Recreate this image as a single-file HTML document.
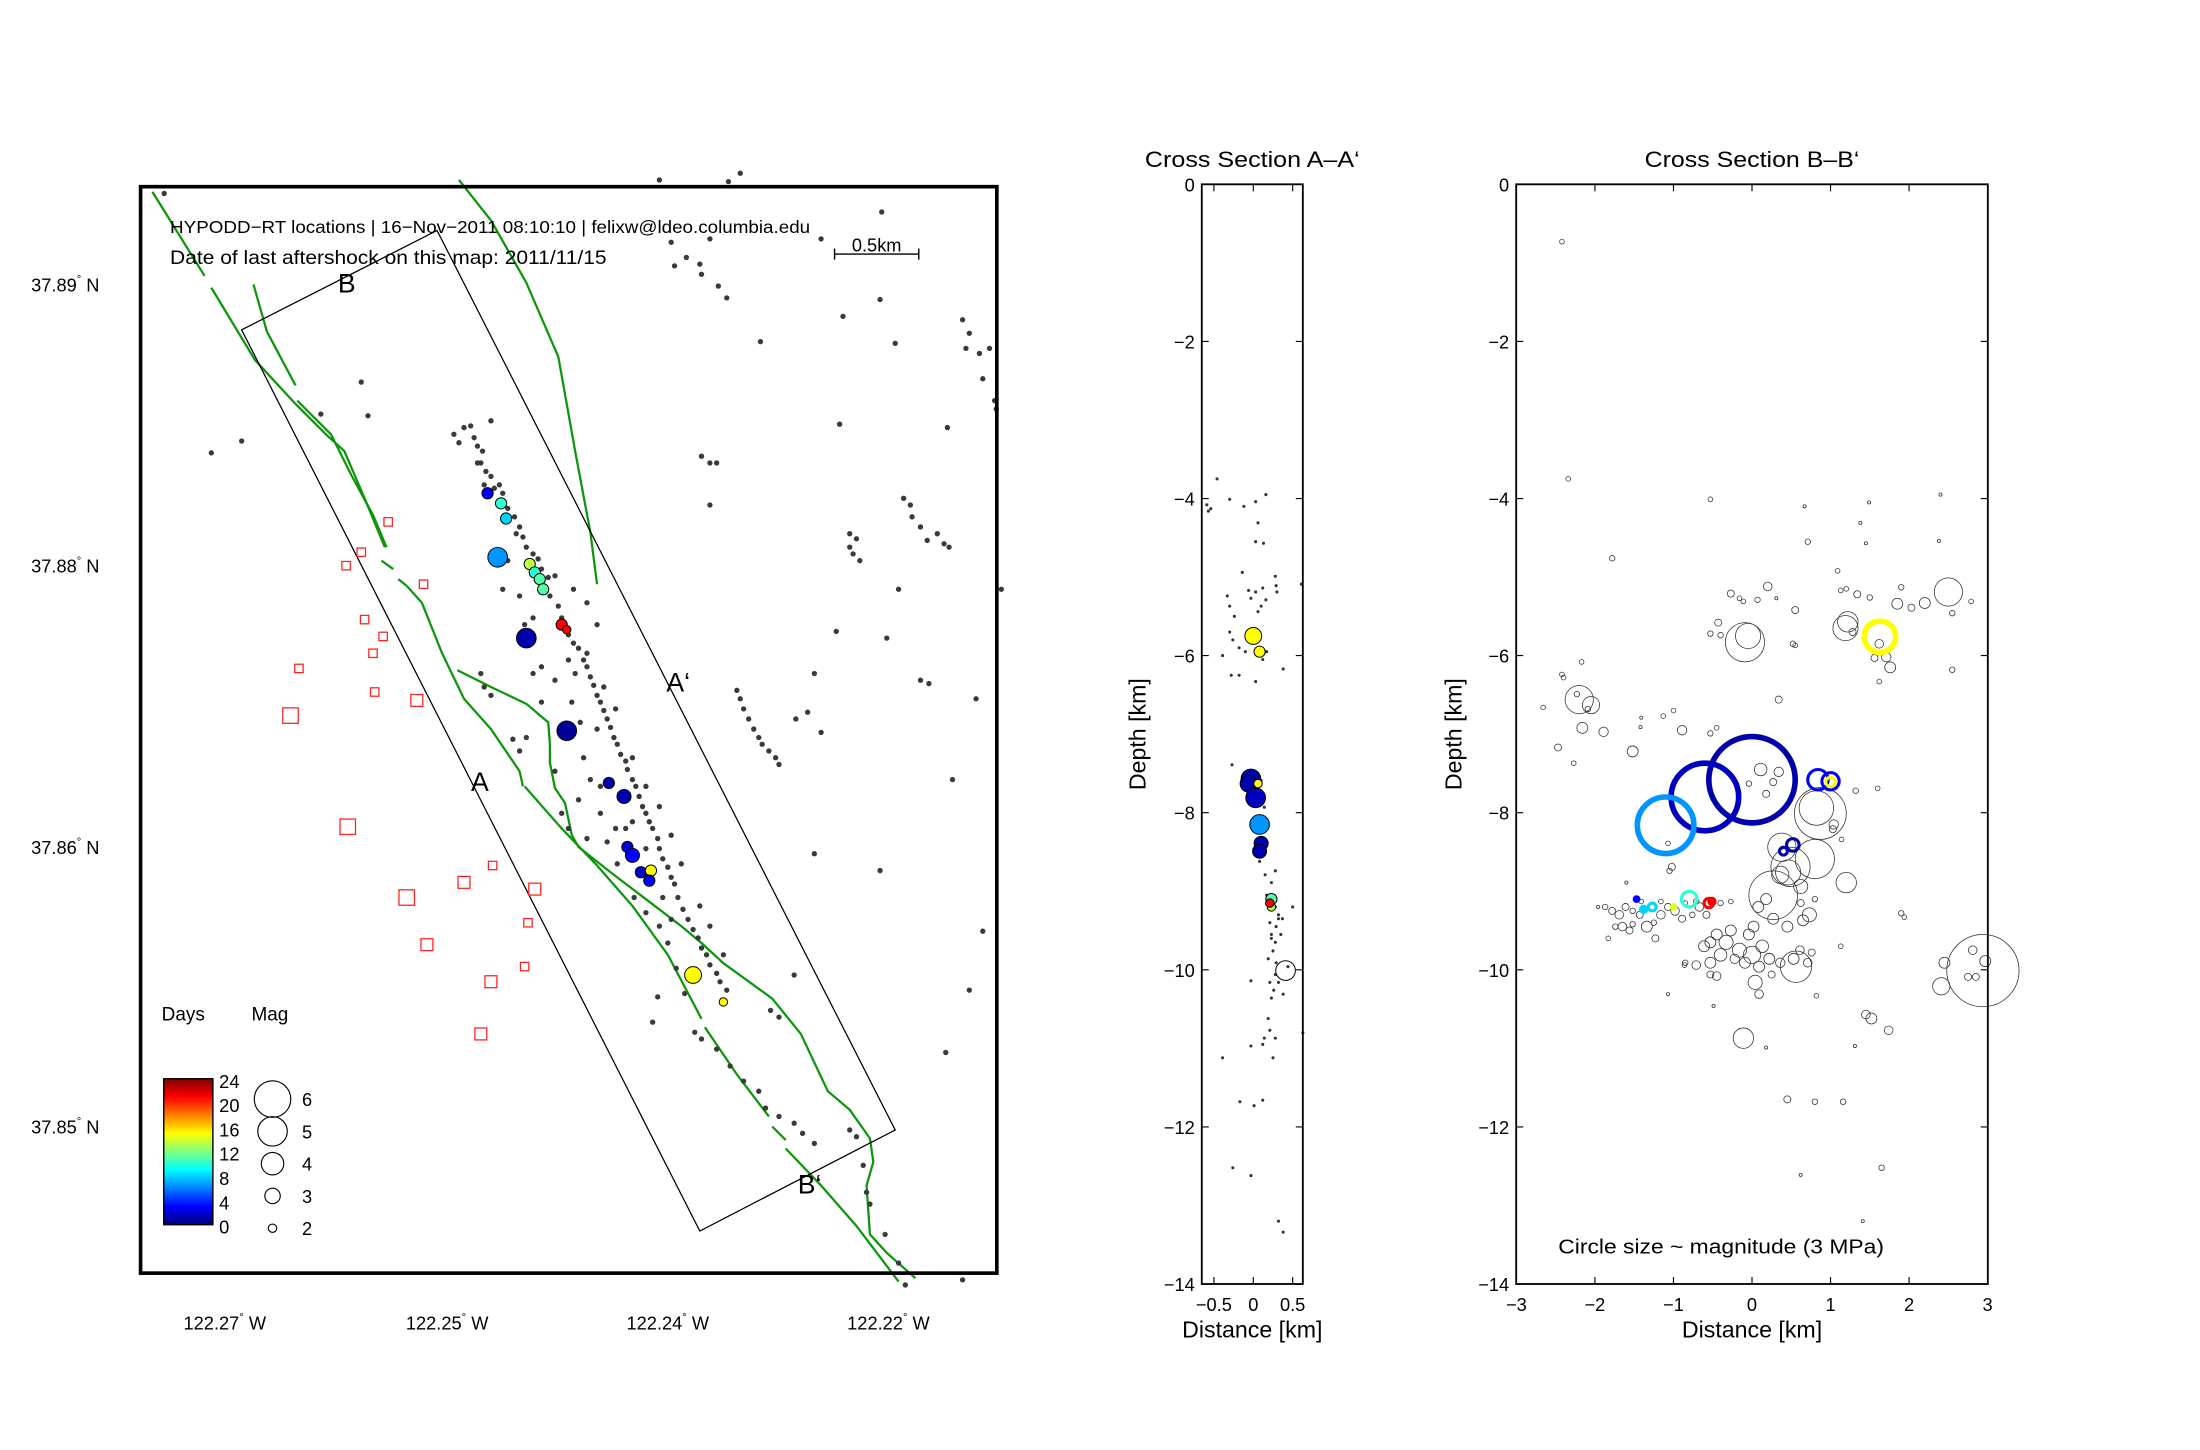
<!DOCTYPE html>
<html><head><meta charset="utf-8"><title>HYPODD-RT locations</title>
<style>
html,body{margin:0;padding:0;background:#fff;}
svg{display:block;font-family:"Liberation Sans",Arial,sans-serif;}
</style></head>
<body>
<svg id="fig" xmlns="http://www.w3.org/2000/svg" width="2200" height="1450" viewBox="0 0 1567 1033">
<defs>
<linearGradient id="jet" x1="0" y1="1" x2="0" y2="0">
<stop offset="0" stop-color="#000080"/><stop offset="0.125" stop-color="#0000ff"/><stop offset="0.375" stop-color="#00ffff"/><stop offset="0.625" stop-color="#ffff00"/><stop offset="0.875" stop-color="#ff0000"/><stop offset="1" stop-color="#800000"/>
</linearGradient>
</defs>
<rect x="0" y="0" width="1567" height="1033" fill="#fff"/>
<g id="map"></g>
<g id="secA"></g>
<g id="secB"></g>
</svg>
<script>
// ---------------- MAP DATA (km east / km north of map lower-left corner) ----------------
const mapDots = [[1.86,4.98],[1.92,5.02],[1.96,5.03],[1.98,4.96],[2.00,4.91],[2.03,4.88],[2.02,4.81],[2.05,4.76],[2.08,4.73],[2.04,4.68],[2.10,4.66],[2.13,4.68],[2.15,4.63],[2.18,4.54],[2.22,4.49],[2.25,4.43],[2.27,4.37],[2.23,4.39],[2.29,4.31],[2.33,4.27],[2.36,4.24],[2.38,4.18],[2.42,4.13],[2.43,4.02],[2.48,3.96],[2.50,3.89],[2.54,3.79],[2.57,3.74],[2.60,3.71],[2.63,3.64],[2.65,3.60],[2.67,3.54],[2.69,3.49],[2.71,3.43],[2.73,3.39],[2.75,3.34],[2.77,3.29],[2.79,3.24],[2.81,3.18],[2.83,3.14],[2.85,3.08],[2.88,3.04],[2.89,2.99],[2.92,2.93],[2.94,2.89],[2.96,2.83],[2.98,2.77],[3.00,2.73],[3.02,2.68],[3.04,2.64],[3.07,2.58],[3.08,2.52],[3.10,2.46],[3.13,2.41],[3.15,2.35],[3.17,2.31],[3.19,2.23],[3.22,2.16],[3.25,2.10],[3.28,2.04],[3.31,1.99],[3.33,1.93],[3.36,1.89],[3.38,1.83],[3.42,1.78],[3.44,1.73],[3.48,1.68],[3.08,2.77],[3.00,2.89],[2.92,3.06],[2.82,3.35],[2.75,3.48],[2.65,3.68],[2.58,3.56],[2.56,3.39],[2.61,3.27],[2.71,3.23],[2.63,3.06],[2.67,2.93],[2.73,2.73],[2.82,2.64],[2.77,2.56],[2.83,2.43],[2.93,2.23],[3.00,2.14],[3.08,2.06],[3.13,1.96],[3.18,1.81],[3.23,1.66],[3.07,1.64],[3.04,1.49],[3.29,1.43],[3.33,1.39],[3.42,1.33],[3.50,1.23],[3.58,1.14],[3.67,1.08],[3.71,0.98],[3.79,0.93],[3.88,0.89],[3.93,0.83],[4.00,0.77],[4.21,0.85],[4.25,0.81],[4.29,0.64],[4.33,0.41],[4.31,0.48],[4.42,0.23],[4.50,0.06],[4.54,-0.07],[4.88,-0.04],[2.71,3.85],[2.65,3.98],[2.57,4.06],[2.46,4.14],[2.28,3.85],[2.33,3.56],[2.38,3.39],[2.29,3.18],[2.25,3.10],[2.21,3.17],[2.46,2.98],[2.50,2.73],[2.54,2.64],[2.65,2.58],[2.73,2.89],[2.60,2.81],[2.92,2.68],[3.15,2.60],[3.21,2.43],[3.00,2.52],[2.88,2.64],[3.10,2.23],[3.15,2.10],[3.32,2.18],[3.38,2.06],[3.46,1.89],[2.08,5.06],[1.89,4.93],[2.00,4.81],[2.15,4.06],[2.33,3.89],[2.18,4.23],[2.25,4.02],[2.38,3.60],[2.46,3.52],[2.54,3.64],[2.02,3.56],[2.04,3.48],[2.08,3.43],
[0.14,6.41],[1.31,5.29],[1.35,5.09],[1.07,5.10],[0.42,4.87],[0.60,4.94],[3.08,6.49],[3.56,6.53],[3.49,6.48],[3.38,6.14],[3.15,6.12],[3.24,6.03],[3.32,5.99],[3.33,5.93],[3.48,5.79],[3.68,5.53],[3.17,5.98],[3.43,5.86],[4.04,6.14],[4.40,6.30],[4.17,5.68],[4.39,5.78],[4.48,5.52],[4.88,5.66],[4.92,5.58],[4.90,5.49],[4.98,5.46],[5.00,5.31],[5.04,5.49],[5.07,5.18],[5.08,5.13],[3.33,4.85],[3.38,4.81],[3.42,4.81],[3.38,4.56],[4.15,5.04],[4.79,5.02],[4.21,4.39],[4.23,4.27],[4.27,4.23],[4.25,4.36],[4.21,4.31],[4.53,4.60],[4.57,4.56],[4.58,4.49],[4.63,4.43],[4.67,4.35],[4.73,4.39],[4.77,4.33],[4.80,4.31],[5.11,4.06],[4.50,4.06],[4.13,3.81],[4.43,3.77],[4.63,3.52],[4.68,3.50],[4.96,3.41],[3.96,3.33],[4.82,2.93],[4.39,2.39],[4.92,1.68],[4.78,1.31],[5.00,2.03],[3.54,3.46],[3.56,3.41],[3.58,3.35],[3.61,3.29],[3.64,3.23],[3.67,3.18],[3.69,3.14],[3.73,3.10],[3.77,3.06],[3.79,3.02],[4.04,3.21],[3.89,3.29],[4.00,3.56],[4.00,2.49],[3.88,1.77],[3.74,1.56],[3.79,1.52]];
const mapEvE   = [2.06,2.14,2.17,2.12,2.31,2.34,2.37,2.39,2.50,2.53,2.29,2.53,2.78,2.87,2.89,2.92,2.97,3.03,3.02,3.28,3.46];
const mapEvN   = [4.63,4.57,4.48,4.25,4.21,4.16,4.12,4.06,3.85,3.82,3.77,3.22,2.91,2.83,2.53,2.48,2.38,2.39,2.33,1.77,1.61];
const mapEvDay = [3,10,8,6.5,13.5,10,11,11,21,21,1,0.5,1,1,2,3,2,15,3,15,15];
const mapEvMag = [2.4,2.4,2.4,3.6,2.4,2.4,2.4,2.4,2.4,2.0,3.6,3.6,2.4,2.8,2.4,2.8,2.4,2.4,2.4,3.2,2.0];
const sqE    = [1.47,1.31,1.22,1.68,1.33,1.44,1.38,0.94,1.39,1.64,0.89,1.23,1.58,1.92,2.09,2.34,2.30,1.70,2.28,2.08,2.02];
const sqN    = [4.46,4.28,4.20,4.09,3.88,3.78,3.68,3.59,3.45,3.40,3.31,2.65,2.23,2.32,2.42,2.28,2.08,1.95,1.82,1.73,1.42];
const sqSize = [1,1,1,1,1,1,1,1,1,2,3,3,3,2,1,2,1,2,1,2,2];
const faults = [
 [[0.07,6.42],[0.38,5.92]],
 [[0.42,5.85],[0.68,5.42],[0.92,5.16],[1.10,4.98],[1.21,4.88],[1.33,4.60],[1.45,4.31]],
 [[0.67,5.87],[0.75,5.59],[0.92,5.27]],
 [[0.93,5.18],[1.13,4.98],[1.25,4.74],[1.38,4.50],[1.46,4.31]],
 [[1.43,4.23],[1.50,4.18]],
 [[1.53,4.12],[1.58,4.08]],
 [[1.58,4.08],[1.67,3.98],[1.79,3.68],[1.92,3.41],[2.08,3.23],[2.25,2.98],[2.27,2.89]],
 [[2.28,2.89],[2.50,2.64],[2.71,2.42],[2.92,2.18],[3.13,1.89],[3.33,1.51]],
 [[3.35,1.46],[3.54,1.18],[3.73,0.93]],
 [[3.75,0.87],[3.83,0.79]],
 [[3.83,0.74],[4.04,0.52],[4.25,0.28],[4.50,-0.05]],
 [[1.88,3.58],[2.08,3.48],[2.29,3.38],[2.42,3.27],[2.43,3.14],[2.43,3.03],[2.46,2.88],[2.52,2.79],[2.56,2.60],[2.60,2.53],[2.79,2.38],[3.00,2.22],[3.21,2.06],[3.33,1.96],[3.46,1.84],[3.75,1.63],[3.92,1.42],[4.08,1.08],[4.21,0.97],[4.33,0.80],[4.35,0.66],[4.31,0.52],[4.33,0.23],[4.43,0.12],[4.60,-0.03]],
 [[1.89,6.49],[2.08,6.25],[2.29,5.88],[2.48,5.44],[2.58,4.88],[2.67,4.40],[2.71,4.09]]
];
const sectionBox = [[0.60,5.60],[1.76,6.19],[4.48,0.85],[3.32,0.25]];
const latTickKm = [5.87,4.20,2.53,0.87];
const latTickLabels = ["37.89","37.88","37.86","37.85"];
const lonTickKm = [0.50,1.82,3.13,4.44];
const lonTickLabels = ["122.27","122.25","122.24","122.22"];
const cbarLabels = ["24","20","16","12","8","4","0"];
const magLegend = [6,5,4,3,2];

// ---------------- CROSS SECTION A ----------------
const aDots = [[-0.46,-3.75],[-0.59,-4.08],[-0.57,-4.16],[-0.54,-4.13],[-0.30,-4.01],[-0.12,-4.10],[0.03,-4.04],[0.16,-3.95],[0.06,-4.31],[0.03,-4.55],[0.13,-4.57],[-0.14,-4.94],[-0.06,-5.17],[-0.03,-5.27],[0.03,-5.19],[0.12,-5.14],[0.28,-4.99],[0.29,-5.11],[0.30,-5.19],[0.16,-5.29],[0.10,-5.37],[0.06,-5.44],[-0.33,-5.24],[-0.30,-5.37],[-0.24,-5.50],[-0.30,-5.70],[-0.26,-5.80],[-0.18,-5.90],[-0.10,-5.95],[0.17,-5.95],[0.12,-6.05],[0.38,-6.17],[-0.28,-6.25],[-0.18,-6.25],[0.03,-6.33],[-0.39,-6.00],[-0.27,-7.39],[-0.06,-7.63],[0.10,-7.59],[0.06,-7.71],[0.14,-7.93],[0.06,-8.34],[0.12,-8.49],[0.08,-8.62],[0.15,-8.79],[0.23,-8.89],[0.26,-9.05],[0.17,-9.05],[0.28,-9.20],[0.32,-9.30],[0.37,-9.35],[0.21,-9.40],[0.23,-9.55],[0.28,-9.65],[0.25,-9.76],[0.19,-9.86],[0.29,-9.91],[0.28,-10.06],[0.21,-10.16],[0.32,-10.16],[0.26,-10.26],[0.23,-10.36],[0.38,-10.31],[0.19,-10.62],[0.21,-10.77],[0.14,-10.87],[0.28,-10.87],[-0.03,-10.97],[0.12,-10.95],[0.25,-11.12],[-0.39,-11.12],[-0.17,-11.68],[0.01,-11.73],[0.12,-11.66],[-0.26,-12.52],[-0.03,-12.62],[0.32,-13.20],[0.38,-13.34],[0.63,-10.80],[0.61,-5.09],[-0.03,-10.14],[0.28,-8.74],[0.50,-9.20],[0.44,-9.96],[0.32,-9.35],[0.19,-9.15],[0.29,-9.45],[0.35,-9.55],[0.23,-9.60]];
const aEvDist  = [0.00,0.08,-0.03,-0.06,0.03,0.06,0.08,0.10,0.08,0.23,0.23,0.21];
const aEvDepth = [-5.75,-5.95,-7.57,-7.63,-7.81,-7.63,-8.15,-8.39,-8.49,-9.10,-9.20,-9.15];
const aEvDay   = [15,15,1,1,1.5,15,6.5,1,1,11,13,21];
const aEvMag   = [3.2,2.4,3.6,3.2,3.6,2.0,3.6,2.8,2.8,2.4,2.0,2.0];
const aBigOpen = [[0.41,-10.01]];
const aXTicks = [-0.5,0,0.5];
const aXTickLabels = ["\u22120.5","0","0.5"];
const depthTicks = [0,-2,-4,-6,-8,-10,-12,-14];
const depthTickLabels = ["0","\u22122","\u22124","\u22126","\u22128","\u221210","\u221212","\u221214"];

// ---------------- CROSS SECTION B (distance km, depth km, source radius km) ----------------
const bCircles = [[-2.42,-0.73,.03],[-2.34,-3.75,.03],[-0.53,-4.01,.03],[0.67,-4.10,.02],[1.49,-4.05,.02],[2.40,-3.95,.02],[1.38,-4.31,.02],[0.71,-4.55,.035],[1.45,-4.57,.02],[2.38,-4.54,.02],[-1.78,-4.76,.035],[1.09,-4.92,.03],[2.50,-5.19,.18],[1.85,-5.34,.07],[2.03,-5.39,.045],[2.20,-5.33,.07],[2.55,-5.46,.035],[2.79,-5.31,.03],[1.13,-5.17,.03],[1.20,-5.15,.03],[1.34,-5.22,.045],[1.50,-5.26,.035],[1.90,-5.13,.035],[-0.27,-5.21,.045],[-0.16,-5.27,.03],[-0.11,-5.31,.03],[0.07,-5.29,.035],[0.20,-5.12,.055],[0.31,-5.27,.02],[0.55,-5.42,.045],[1.19,-5.65,.16],[1.22,-5.57,.13],[1.28,-5.70,.045],[-0.09,-5.83,.25],[-0.05,-5.75,.16],[-0.53,-5.72,.035],[-0.40,-5.74,.035],[-0.43,-5.58,.045],[0.52,-5.85,.035],[0.55,-5.87,.03],[1.62,-5.85,.055],[1.71,-6.02,.06],[1.76,-6.15,.07],[2.55,-6.18,.035],[1.62,-6.33,.03],[1.56,-6.03,.045],[-2.42,-6.24,.03],[-2.40,-6.28,.03],[-2.17,-6.08,.03],[-2.20,-6.56,.18],[-2.05,-6.63,.11],[-2.16,-6.92,.07],[-1.89,-6.97,.06],[-2.09,-6.68,.035],[-2.23,-6.49,.035],[-2.47,-7.17,.045],[-2.66,-6.66,.03],[-2.27,-7.37,.03],[-1.52,-7.22,.07],[-1.42,-6.91,.02],[-1.41,-6.79,.02],[-1.13,-6.77,.03],[-1.00,-6.70,.03],[-0.89,-6.95,.06],[-0.53,-6.99,.035],[-0.45,-6.92,.03],[0.34,-6.56,.045],[0.11,-7.45,.08],[0.18,-7.76,.045],[0.27,-7.61,.045],[0.34,-7.48,.06],[-0.04,-7.63,.035],[0.87,-8.01,.33],[0.82,-7.94,.22],[1.04,-8.15,.06],[1.03,-8.21,.045],[1.20,-8.89,.13],[1.32,-7.72,.035],[1.60,-7.69,.03],[1.14,-8.34,.03],[0.38,-8.44,.18],[0.49,-8.69,.25],[0.80,-8.59,.25],[0.46,-8.76,.16],[0.36,-8.79,.11],[0.27,-9.05,.31],[0.62,-8.94,.09],[0.73,-9.30,.09],[0.65,-9.37,.07],[0.45,-9.45,.07],[0.27,-9.35,.07],[0.08,-9.20,.07],[0.18,-9.10,.07],[0.02,-9.45,.07],[-0.04,-9.55,.07],[-0.27,-9.50,.07],[-0.45,-9.55,.07],[-0.53,-9.65,.07],[-0.61,-9.70,.07],[-0.33,-9.65,.09],[-0.16,-9.75,.09],[0.00,-9.81,.11],[0.13,-9.70,.08],[0.22,-9.86,.07],[0.36,-9.91,.06],[0.53,-9.86,.07],[0.61,-9.75,.055],[0.56,-9.96,.2],[0.71,-9.91,.055],[0.76,-9.78,.045],[0.09,-9.96,.07],[-0.09,-9.91,.07],[-0.22,-9.86,.06],[-0.40,-9.81,.08],[-0.53,-9.91,.07],[-0.71,-9.94,.055],[-0.85,-9.91,.035],[-0.53,-10.06,.045],[-0.45,-10.08,.055],[0.25,-10.06,.045],[0.04,-10.16,.09],[0.09,-10.31,.055],[0.82,-10.33,.03],[-0.11,-10.87,.13],[0.18,-10.99,.02],[-0.49,-10.46,.02],[0.45,-11.65,.045],[0.80,-11.68,.035],[1.16,-11.68,.035],[0.62,-12.61,.02],[1.65,-12.52,.035],[1.41,-13.20,.02],[1.31,-10.97,.02],[1.45,-10.57,.055],[1.52,-10.62,.07],[1.74,-10.77,.055],[2.94,-10.01,.46],[2.45,-9.91,.07],[2.41,-10.21,.11],[2.81,-9.75,.055],[2.75,-10.09,.045],[2.85,-10.09,.045],[2.97,-9.89,.07],[1.90,-9.28,.035],[1.94,-9.33,.03],[1.13,-9.70,.03],[0.80,-9.10,.035],[0.62,-9.15,.045],[-1.87,-9.20,.035],[-1.78,-9.25,.045],[-1.69,-9.30,.055],[-1.61,-9.20,.045],[-1.52,-9.25,.035],[-1.43,-9.30,.045],[-1.65,-9.45,.055],[-1.56,-9.50,.045],[-1.34,-9.45,.07],[-1.25,-9.40,.035],[-1.16,-9.30,.055],[-1.07,-9.20,.045],[-0.98,-9.25,.055],[-0.89,-9.35,.045],[-0.76,-9.30,.035],[-0.67,-9.20,.055],[-0.58,-9.30,.045],[-1.83,-9.60,.03],[-1.74,-9.45,.035],[-1.96,-9.20,.02],[-1.41,-9.13,.03],[-1.16,-9.13,.03],[-0.85,-9.15,.03],[-0.71,-9.13,.035],[-0.40,-9.15,.035],[-0.27,-9.13,.03],[-1.07,-10.31,.02],[-0.86,-9.94,.03],[-1.23,-9.60,.045],[-1.52,-9.42,.035],[-1.07,-8.39,.03],[-1.05,-8.74,.035],[-1.02,-8.69,.045],[-1.60,-8.89,.02]];
const bEvDist   = [0.00,-0.60,-1.10,1.63,0.84,1.00,1.00,0.52,0.40,-0.80,-1.27,-1.38,-1.47,-0.55,-0.51,-1.00];
const bEvDepth  = [-7.58,-7.80,-8.16,-5.76,-7.58,-7.60,-7.61,-8.41,-8.49,-9.10,-9.20,-9.23,-9.10,-9.15,-9.13,-9.20];
const bEvRadius = [0.55,0.43,0.36,0.20,0.13,0.11,0.06,0.08,0.05,0.10,0.05,0.04,0.03,0.06,0.04,0.03];
const bEvDay    = [1,1.5,6.5,15,3,3,15,1,1,10,8,8,3,21,21,14];
const bXTicks = [-3,-2,-1,0,1,2,3];
const bXTickLabels = ["\u22123","\u22122","\u22121","0","1","2","3"];

// ---------------- helpers ----------------
const NS = "http://www.w3.org/2000/svg";
function mk(tag, attrs, parent){ const e=document.createElementNS(NS,tag); for(const k in attrs) e.setAttribute(k,attrs[k]); parent.appendChild(e); return e; }
function jet(day){ const t=Math.max(0,Math.min(1,day/24)); const c=v=>Math.round(255*Math.max(0,Math.min(1,v)));
  return `rgb(${c(1.5-Math.abs(4*t-3))},${c(1.5-Math.abs(4*t-2))},${c(1.5-Math.abs(4*t-1))})`; }
const magR = m => 2.5*m - 2;
const FF = '"Liberation Sans",Arial,sans-serif';

const mx = e => 100 + e*120;
const my = n => 907 - n*120;
const ax = d => 892.7 + d*56.1;
const dy = z => 131.3 - z*55.96;
const bx = d => 1248 + d*55.95;
const bk = 55.95;

// ================= MAP =================
const map = document.getElementById('map');
let el;
faults.forEach((f)=>{
  el = mk('polyline',{points:f.map(p=>mx(p[0])+','+my(p[1])).join(' '),fill:'none',stroke:'#0c960c','stroke-width':1.6},map);
  
  
});
el = mk('polygon',{points:sectionBox.map(p=>mx(p[0])+','+my(p[1])).join(' '),fill:'none',stroke:'#000','stroke-width':0.9},map);


sqE.forEach((e,i)=>{
  const s = 3.5 + 2.5*sqSize[i];
  el = mk('rect',{x:mx(e)-s/2,y:my(sqN[i])-s/2,width:s,height:s,fill:'none',stroke:'#ff2020','stroke-width':0.9},map);
  
  
});
mapDots.forEach(p=>{
  el = mk('circle',{cx:mx(p[0]),cy:my(p[1]),r:1.9,fill:'#3a3a3a'},map);
  
  
});
mapEvE.forEach((e,i)=>{
  el = mk('circle',{cx:mx(e),cy:my(mapEvN[i]),r:magR(mapEvMag[i]),fill:jet(mapEvDay[i]),stroke:'#000','stroke-width':0.7},map);
  
  
});
el = mk('rect',{x:100,y:133,width:610,height:774,fill:'none',stroke:'#000','stroke-width':2.6},map);


[['B',1.23,5.88],['A\u2018',3.18,3.51],['A',2.02,2.92],['B\u2018',3.96,0.53]].forEach(l=>{
  el = mk('text',{x:mx(l[1])-7,y:my(l[2])+7,'font-size':19,'font-family':FF},map);
  el.textContent = l[0];
  
  
});
el = mk('text',{x:121,y:166,'font-size':12.5,'font-family':FF,textLength:456,lengthAdjust:'spacingAndGlyphs'},map);
el.textContent = 'HYPODD\u2212RT locations | 16\u2212Nov\u22122011 08:10:10 | felixw@ldeo.columbia.edu';


el = mk('text',{x:121,y:188,'font-size':14,'font-family':FF,textLength:311,lengthAdjust:'spacingAndGlyphs'},map);
el.textContent = 'Date of last aftershock on this map: 2011/11/15';


el = mk('path',{d:`M${mx(4.12)},181 H${mx(4.12)+0.5*120} M${mx(4.12)},177 V185 M${mx(4.12)+60},177 V185`,stroke:'#000','stroke-width':1,fill:'none'},map);


el = mk('text',{x:mx(4.12)+30,y:179,'font-size':13,'font-family':FF,'text-anchor':'middle'},map);
el.textContent = '0.5km';


latTickKm.forEach((n,i)=>{
  el = mk('text',{x:22,y:my(n)+5,'font-size':13,'font-family':FF},map);
  el.innerHTML = latTickLabels[i]+'<tspan font-size="8" dy="-6">\u00b0</tspan><tspan dy="6"> N</tspan>';
  
  
});
lonTickKm.forEach((e,i)=>{
  el = mk('text',{x:mx(e),y:947,'font-size':13,'font-family':FF,'text-anchor':'middle'},map);
  el.innerHTML = lonTickLabels[i]+'<tspan font-size="8" dy="-6">\u00b0</tspan><tspan dy="6"> W</tspan>';
  
  
});
el = mk('text',{x:115,y:727,'font-size':13.5,'font-family':FF},map); el.textContent='Days';


el = mk('text',{x:179,y:727,'font-size':13.5,'font-family':FF},map); el.textContent='Mag';


el = mk('rect',{x:116.5,y:768.5,width:35,height:104,fill:'url(#jet)',stroke:'#000','stroke-width':1},map);


cbarLabels.forEach((t,i)=>{
  el = mk('text',{x:156,y:775+i*17.3,'font-size':13,'font-family':FF},map); el.textContent=t;
  
  
});
magLegend.forEach((m,i)=>{
  const cy = 783 + i*23;
  el = mk('circle',{cx:194,cy:cy,r:magR(m),fill:'none',stroke:'#000','stroke-width':0.8},map);
  
  
  el = mk('text',{x:215,y:cy+5,'font-size':13,'font-family':FF},map); el.textContent=String(m);
  
  
});

// ================= SECTION AXES =================
function sectionAxes(g, x0, x1, xs, xTicks, xLabels, cx, title, titleLen, prefix){
  const y0 = dy(0), y1 = dy(-14);
  depthTicks.forEach((z,i)=>{
    el = mk('path',{d:`M${x0},${dy(z)} h5 M${x1},${dy(z)} h-5`,stroke:'#000','stroke-width':0.8},g);
    
    
    el = mk('text',{x:x0-5,y:dy(z)+5,'font-size':13,'font-family':FF,'text-anchor':'end'},g);
    el.textContent = depthTickLabels[i];
    
    
  });
  xTicks.forEach((v,i)=>{
    el = mk('path',{d:`M${xs(v)},${y0} v5 M${xs(v)},${y1} v-5`,stroke:'#000','stroke-width':0.8},g);
    
    
    el = mk('text',{x:xs(v),y:934,'font-size':13,'font-family':FF,'text-anchor':'middle'},g);
    el.textContent = xLabels[i];
    
    
  });
  el = mk('rect',{x:x0,y:y0,width:x1-x0,height:y1-y0,fill:'none',stroke:'#000','stroke-width':1.3},g);
  
  
  el = mk('text',{x:cx,y:119,'font-size':15.5,'font-family':FF,'text-anchor':'middle',textLength:titleLen,lengthAdjust:'spacingAndGlyphs'},g);
  el.textContent = title;
  
  
  el = mk('text',{x:cx,y:953,'font-size':16.5,'font-family':FF,'text-anchor':'middle'},g);
  el.textContent = 'Distance [km]';
  
  
}

// ================= SECTION A =================
const gA = document.getElementById('secA');
aDots.forEach(p=>{
  el = mk('circle',{cx:ax(p[0]),cy:dy(p[1]),r:1.1,fill:'#333'},gA);
  
  
});
aBigOpen.forEach(p=>{
  el = mk('circle',{cx:ax(p[0]),cy:dy(p[1]),r:7,fill:'none',stroke:'#000','stroke-width':0.7},gA);
  
  
});
aEvDist.forEach((d,i)=>{
  el = mk('circle',{cx:ax(d),cy:dy(aEvDepth[i]),r:magR(aEvMag[i]),fill:jet(aEvDay[i]),stroke:'#000','stroke-width':0.7},gA);
  
  
});
sectionAxes(gA, 856, 928, ax, aXTicks, aXTickLabels, 892, 'Cross Section A\u2013A\u2018', 153, 'section-a');
el = mk('text',{x:0,y:0,'font-size':16.5,'font-family':FF,'text-anchor':'middle',transform:'translate(816,523) rotate(-90)'},gA);
el.textContent = 'Depth [km]';



// ================= SECTION B =================
const gB = document.getElementById('secB');
bCircles.forEach(c=>{
  el = mk('circle',{cx:bx(c[0]),cy:dy(c[1]),r:Math.max(1,c[2]*bk),fill:'none',stroke:'#333','stroke-width':0.55},gB);
  
  
});
bEvDist.forEach((d,i)=>{
  const r = bEvRadius[i]*bk;
  el = mk('circle',{cx:bx(d),cy:dy(bEvDepth[i]),r:r,fill:r<2.5?jet(bEvDay[i]):'none',stroke:jet(bEvDay[i]),'stroke-width':r>8?4:2.2},gB);
  
  
});
sectionAxes(gB, 1080, 1416, bx, bXTicks, bXTickLabels, 1248, 'Cross Section B\u2013B\u2018', 153, 'section-b');
el = mk('text',{x:0,y:0,'font-size':16.5,'font-family':FF,'text-anchor':'middle',transform:'translate(1041,523) rotate(-90)'},gB);
el.textContent = 'Depth [km]';


el = mk('text',{x:1110,y:893,'font-size':14.5,'font-family':FF,textLength:232,lengthAdjust:'spacingAndGlyphs'},gB);
el.textContent = 'Circle size ~ magnitude (3 MPa)';


</script>
</body></html>
